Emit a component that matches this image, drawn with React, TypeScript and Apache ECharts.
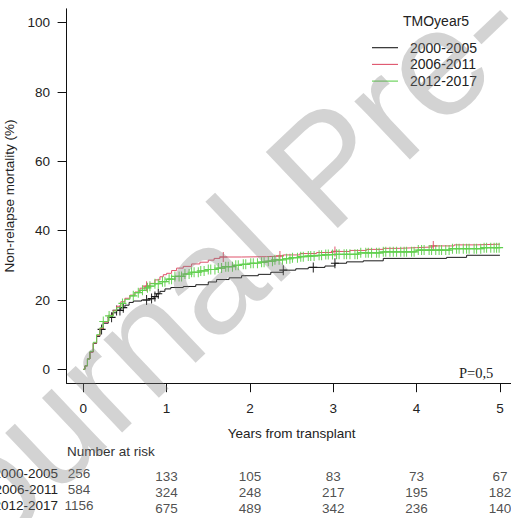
import React, { useEffect, useRef } from 'react';
import * as echarts from 'echarts';

const FONT = 'Liberation Sans, Arial, Helvetica, sans-serif';

const groups = ['2000-2005', '2006-2011', '2012-2017'];
const colors = ['#1a1a1a', '#DF536B', '#61D04F'];
const xTicks = [0, 1, 2, 3, 4, 5];
const yTicks = [0, 20, 40, 60, 80, 100];

const riskTimes = [0, 1, 2, 3, 4, 5];
const risk2000 = [256, 133, 105, 83, 73, 67];
const risk2006 = [584, 324, 248, 217, 195, 182];
const risk2012 = [1156, 675, 489, 342, 236, 140];

// cumulative incidence step curves: [years, %]
const curve2000 = [
  [0, 0], [0.02, 1], [0.05, 3], [0.08, 5], [0.12, 7.5], [0.16, 9.5], [0.2, 11.5], [0.24, 13.3],
  [0.3, 15], [0.35, 16.3], [0.4, 17], [0.45, 17.8], [0.5, 18.5], [0.55, 19.3], [0.6, 19.7],
  [0.7, 20], [0.8, 20.4], [0.85, 21], [0.88, 21.8], [0.92, 22.5], [0.98, 23.2], [1.05, 23.6],
  [1.2, 23.9], [1.35, 24.4], [1.5, 25.2], [1.6, 25.9], [1.75, 26.4], [1.9, 27], [2.1, 27.4],
  [2.25, 28], [2.4, 28.6], [2.55, 29], [2.7, 29.4], [2.9, 29.8], [3.02, 30.6], [3.16, 31],
  [3.36, 31.3], [3.6, 32], [4.36, 32.3], [4.6, 32.9], [5, 32.9],
];
const curve2006 = [
  [0, 0], [0.02, 1], [0.05, 3], [0.08, 5], [0.12, 7.6], [0.16, 9.8], [0.2, 11.8], [0.24, 13.6],
  [0.3, 15.6], [0.36, 17], [0.4, 18.2], [0.45, 19.5], [0.5, 20.5], [0.56, 21.4], [0.62, 22.3],
  [0.68, 23.4], [0.74, 24], [0.8, 24.8], [0.86, 25.8], [0.92, 26.7], [0.96, 27.3], [1.0, 27.7],
  [1.06, 28.5], [1.12, 29.2], [1.2, 29.7], [1.3, 30.4], [1.4, 30.9], [1.5, 31.5], [1.57, 32],
  [1.64, 32.4], [1.9, 32.5], [2.2, 32.7], [2.4, 33], [2.6, 33.4], [2.8, 33.7], [3.0, 34],
  [3.2, 34.3], [3.4, 34.6], [3.6, 34.9], [3.8, 35.1], [4.0, 35.3], [4.2, 35.6], [4.45, 35.9],
  [4.7, 36.1], [5, 36.1],
];
const curve2012 = [
  [0, 0], [0.02, 1], [0.05, 3], [0.08, 5.2], [0.12, 7.8], [0.16, 10], [0.2, 12], [0.24, 13.8],
  [0.3, 15.4], [0.36, 16.8], [0.4, 17.8], [0.45, 19], [0.5, 20.2], [0.56, 21.2], [0.62, 22.1],
  [0.68, 22.8], [0.74, 23.5], [0.8, 24], [0.86, 24.7], [0.92, 25.3], [1.0, 26], [1.1, 26.8],
  [1.2, 27.5], [1.3, 28], [1.4, 28.4], [1.5, 28.8], [1.6, 29.2], [1.7, 29.6], [1.8, 30],
  [1.9, 30.3], [2.0, 30.6], [2.1, 30.9], [2.2, 31.2], [2.3, 31.6], [2.4, 31.9], [2.5, 32.2],
  [2.6, 32.5], [2.7, 32.7], [2.8, 32.9], [2.9, 33.1], [3.0, 33.2], [3.3, 33.6], [3.6, 33.9],
  [4.0, 34.4], [4.4, 34.8], [4.8, 35.1], [5, 35.2],
];

// censoring times (years)
const censor2000 = [0.22, 0.34, 0.4, 0.44, 0.48, 0.76, 0.82, 0.86, 0.9, 2.4, 2.76, 3.02];
const censor2006 = [0.76, 1.68, 2.36, 3.02, 4.2];
const censor2012 = [
  0.24, 0.31, 0.47, 0.6, 0.66, 0.71, 0.77, 0.8, 0.86, 0.9, 0.95, 0.98, 1.03, 1.06, 1.1, 1.15,
  1.18, 1.22, 1.27, 1.3, 1.33, 1.38, 1.41, 1.45, 1.5, 1.53, 1.58, 1.62, 1.66, 1.71, 1.74, 1.79,
  1.83, 1.86, 1.92, 1.95, 2.01, 2.04, 2.09, 2.14, 2.17, 2.22, 2.27, 2.3, 2.35, 2.39, 2.44, 2.48,
  2.51, 2.57, 2.61, 2.64, 2.7, 2.73, 2.77, 2.83, 2.86, 2.91, 2.94, 2.99, 3.04, 3.07, 3.13, 3.16,
  3.2, 3.26, 3.29, 3.33, 3.39, 3.42, 3.46, 3.52, 3.55, 3.6, 3.63, 3.68, 3.72, 3.76, 3.81, 3.85,
  3.88, 3.94, 3.97, 4.02, 4.06, 4.09, 4.15, 4.18, 4.23, 4.27, 4.3, 4.35, 4.39, 4.43, 4.48, 4.51,
  4.56, 4.6, 4.63, 4.69, 4.72, 4.77, 4.81, 4.84, 4.89, 4.93, 4.96, 4.99,
];

const curves = [curve2000, curve2006, curve2012];
const censors = [censor2000, censor2006, censor2012];
const risks = [risk2000, risk2006, risk2012];

function valueAt(curve: number[][], t: number) {
  let v = 0;
  for (const [ti, vi] of curve) {
    if (ti <= t) v = vi;
  }
  return v;
}

const CROSS = 'path://M-0.12,-1H0.12V1H-0.12ZM-1,-0.12H1V0.12H-1Z';
const LEGEND_LINE = 'path://M0,0H26V1.1H0Z';

export default function App() {
  const ref = useRef<HTMLDivElement>(null);
  useEffect(() => {
    if (!ref.current) return;
    const chart = echarts.init(ref.current, null, { renderer: 'svg' });
    const txt = { fontFamily: FONT, fontSize: 13.5, color: '#222' };
    const series: any[] = [];
    groups.forEach((g, i) => {
      series.push({
        name: g,
        type: 'line',
        step: 'end',
        symbol: 'none',
        data: curves[i],
        lineStyle: { color: colors[i], width: 1 },
        itemStyle: { color: colors[i] },
        silent: true,
        z: 2 + i * 2,
      });
      series.push({
        name: 'censor-' + g,
        type: 'scatter',
        symbol: CROSS,
        symbolSize: [8, 10],
        data: censors[i].map((t) => [t, valueAt(curves[i], t)]),
        itemStyle: { color: colors[i], opacity: 1 },
        silent: true,
        z: 3 + i * 2,
      });
    });
    const riskData: any[] = [];
    groups.forEach((g, i) => {
      riskTimes.forEach((t, j) => {
        riskData.push({
          value: [t, g, risks[i][j]],
          label: { offset: t === 0 ? [-4.3, 0] : [0, 3.5] },
        });
      });
    });
    series.push({
      name: 'risk',
      type: 'scatter',
      xAxisIndex: 1,
      yAxisIndex: 1,
      symbolSize: 1,
      itemStyle: { color: 'transparent' },
      silent: true,
      data: riskData,
      label: {
        show: true,
        position: 'inside',
        formatter: (p: any) => String(p.value[2]),
        ...txt,
      },
    });

    chart.setOption({
      animation: false,
      backgroundColor: '#ffffff',
      grid: [
        { left: 66.6, top: 8.8, width: 450, height: 374.4, containLabel: false, outerBoundsMode: 'none' },
        { left: 66.6, top: 465, width: 450, height: 48, containLabel: false, outerBoundsMode: 'none' },
      ],
      xAxis: [
        {
          gridIndex: 0,
          type: 'value',
          min: -0.2,
          max: 5.2,
          axisLine: { show: true, onZero: false, lineStyle: { color: '#111', width: 1 } },
          axisTick: { show: true, customValues: xTicks, length: 9, lineStyle: { color: '#111', width: 1 } },
          axisLabel: { show: true, customValues: xTicks, margin: 18, ...txt },
          splitLine: { show: false },
          name: 'Years from transplant',
          nameLocation: 'middle',
          nameGap: 43,
          nameTextStyle: { ...txt },
        },
        { gridIndex: 1, type: 'value', min: -0.2, max: 5.2, show: false },
      ],
      yAxis: [
        {
          gridIndex: 0,
          type: 'value',
          min: -4,
          max: 104,
          axisLine: { show: true, onZero: false, lineStyle: { color: '#111', width: 1 } },
          axisTick: { show: true, customValues: yTicks, length: 9, lineStyle: { color: '#111', width: 1 } },
          axisLabel: { show: true, customValues: yTicks, margin: 16.6, ...txt },
          splitLine: { show: false },
          name: 'Non-relapse mortality (%)',
          nameLocation: 'middle',
          nameGap: 42,
          nameRotate: 90,
          nameTextStyle: { ...txt },
        },
        {
          gridIndex: 1,
          type: 'category',
          data: groups,
          inverse: true,
          axisLine: { show: false },
          axisTick: { show: false },
          axisLabel: { margin: 8.6, interval: 0, ...txt },
        },
      ],
      legend: {
        orient: 'vertical',
        left: 367,
        top: 35.7,
        itemWidth: 26,
        itemHeight: 14,
        itemGap: 2.7,
        icon: LEGEND_LINE,
        selectedMode: false,
        data: groups,
        textStyle: { fontFamily: FONT, fontSize: 14, color: '#222', padding: [0, 0, 0, 7] },
      },
      graphic: [
        {
          type: 'text',
          x: 403,
          y: 21,
          style: { text: 'TMOyear5', fontFamily: FONT, fontSize: 14, fill: '#222', verticalAlign: 'middle' },
        },
        {
          type: 'text',
          x: 67,
          y: 451,
          style: { text: 'Number at risk', fontFamily: FONT, fontSize: 13.5, fill: '#333', verticalAlign: 'middle' },
        },
        {
          type: 'text',
          x: 459,
          y: 373,
          style: { text: 'P=0,5', fontFamily: 'Liberation Serif, Times New Roman, serif', fontSize: 14.5, fill: '#222', verticalAlign: 'middle' },
        },
        {
          type: 'text',
          x: 326,
          y: 166,
          rotation: (43.5 * Math.PI) / 180,
          z: 100,
          silent: true,
          style: {
            text: 'Journal Pre-proof',
            fontFamily: FONT,
            fontSize: 152,
            fill: 'rgba(128,128,128,0.35)',
            align: 'center',
            verticalAlign: 'middle',
          },
        },
      ],
      series,
    });
    return () => chart.dispose();
  }, []);
  return (
    <div
      ref={ref}
      style={{ position: 'absolute', left: 0, top: 0, width: 511, height: 518 }}
    />
  );
}
